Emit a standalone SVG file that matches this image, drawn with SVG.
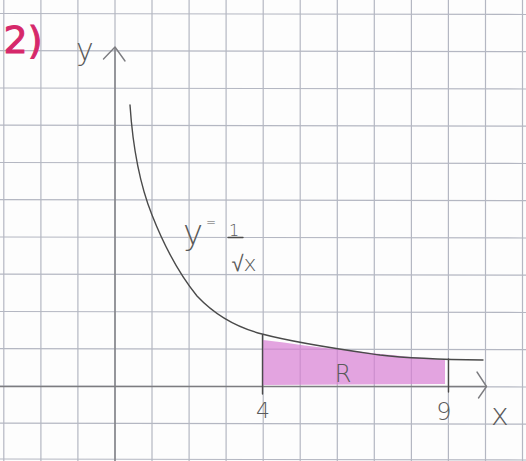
<svg xmlns="http://www.w3.org/2000/svg" width="526" height="461" viewBox="0 0 526 461">
<defs>
<style>
.grid{stroke:#b4b7c2;stroke-width:1.2;fill:none}
.axis{stroke:#7c7c80;stroke-width:1.4;fill:none;stroke-linecap:round;stroke-linejoin:round}
.pen{stroke:#4a4a4a;stroke-width:1.4;fill:none;stroke-linecap:round;stroke-linejoin:round}
.lbl{font-family:"DejaVu Sans","Liberation Sans",sans-serif;fill:#5a5a5a;font-weight:300}
</style>
</defs>
<rect width="526" height="461" fill="#fdfdfd"/>
<g id="grid" class="grid">
<line x1="3.8" y1="0" x2="3.8" y2="461"/>
<line x1="40.9" y1="0" x2="40.9" y2="461"/>
<line x1="77.9" y1="0" x2="77.9" y2="461"/>
<line x1="115" y1="0" x2="115" y2="461"/>
<line x1="152" y1="0" x2="152" y2="461"/>
<line x1="189.1" y1="0" x2="189.1" y2="461"/>
<line x1="226.1" y1="0" x2="226.1" y2="461"/>
<line x1="263.2" y1="0" x2="263.2" y2="461"/>
<line x1="300.2" y1="0" x2="300.2" y2="461"/>
<line x1="337.3" y1="0" x2="337.3" y2="461"/>
<line x1="374.3" y1="0" x2="374.3" y2="461"/>
<line x1="411.4" y1="0" x2="411.4" y2="461"/>
<line x1="448.4" y1="0" x2="448.4" y2="461"/>
<line x1="485.5" y1="0" x2="485.5" y2="461"/>
<line x1="522.5" y1="0" x2="522.5" y2="461"/>
<line x1="0" y1="13.5" x2="526" y2="14.5"/>
<line x1="0" y1="50.7" x2="526" y2="51.7"/>
<line x1="0" y1="88" x2="526" y2="89"/>
<line x1="0" y1="125.2" x2="526" y2="126.2"/>
<line x1="0" y1="162.5" x2="526" y2="163.5"/>
<line x1="0" y1="199.7" x2="526" y2="200.7"/>
<line x1="0" y1="237" x2="526" y2="238"/>
<line x1="0" y1="274.2" x2="526" y2="275.2"/>
<line x1="0" y1="311.5" x2="526" y2="312.5"/>
<line x1="0" y1="348.7" x2="526" y2="349.7"/>
<line x1="0" y1="386" x2="526" y2="387"/>
<line x1="0" y1="423.2" x2="526" y2="424.2"/>
<line x1="0" y1="459" x2="526" y2="460"/>
</g>
<g id="region-R">
<path d="M263,340 C290,343 320,348 345,350 C380,354 420,358 445,360 L445,384 L263,385 Z" fill="#d77dd3" fill-opacity="0.7"/>
<text x="343" y="382" class="lbl" font-size="24" text-anchor="middle">R</text>
</g>
<g id="axes">
<line class="axis" x1="115" y1="48" x2="115" y2="461"/>
<polyline class="axis" points="103.5,59 115,47 125,61"/>
<line class="axis" x1="0" y1="386.5" x2="486" y2="386.5"/>
<polyline class="axis" points="477,372 486.5,386.5 478.5,398"/>
<text x="85" y="60" class="lbl" font-size="30" text-anchor="middle">y</text>
<text x="500" y="425" class="lbl" font-size="30" text-anchor="middle">x</text>
</g>
<g id="curve">
<path class="pen" d="M130,105 C133,150 140,185 152,215 C165,248 180,275 197,296 C213,313 235,327 262,334 C300,344 345,350 380,355 C410,358.5 440,359.5 483,360"/>
<text x="193" y="244" class="lbl" font-size="34" text-anchor="middle">y</text>
<text x="211" y="226" class="lbl" font-size="12" text-anchor="middle">=</text>
<text x="234" y="236" class="lbl" font-size="16" text-anchor="middle">1</text>
<line class="pen" x1="228" y1="237.5" x2="243" y2="237.5"/>
<text x="244" y="271" class="lbl" font-size="22" text-anchor="middle">√x</text>
</g>
<g id="ticks">
<line class="pen" x1="262.5" y1="335" x2="262.5" y2="394"/>
<line class="pen" x1="448.5" y1="359" x2="448.5" y2="392"/>
<text x="263" y="418" class="lbl" font-size="22" text-anchor="middle">4</text>
<text x="444" y="420" class="lbl" font-size="24" text-anchor="middle">9</text>
</g>
<g id="title">
<text x="23" y="53" font-family="DejaVu Sans, sans-serif" font-size="38" fill="#d6286a" stroke="#d6286a" stroke-width="1" text-anchor="middle">2)</text>
</g>
</svg>
